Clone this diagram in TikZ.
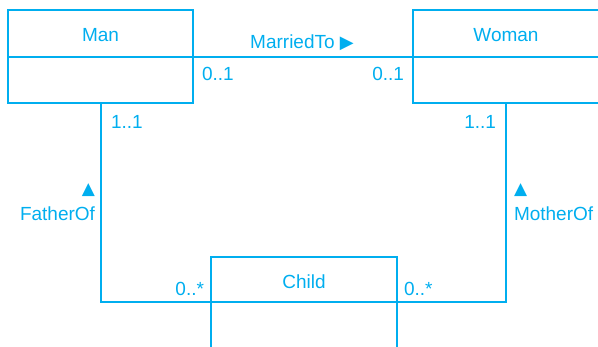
\documentclass[tikz,border=0pt]{standalone}
\usepackage{fontspec}
\setmainfont{Liberation Sans}
\newfontfamily\symfont{DejaVu Sans}
\definecolor{umlcyan}{RGB}{0,174,239}
\begin{document}
\begin{tikzpicture}[x=1pt,y=-1pt,
  every node/.style={inner sep=0pt,outer sep=0pt},
  cls/.style={draw=umlcyan,line width=2pt,rectangle,minimum width=185pt,text=umlcyan,font=\fontsize{19}{21}\selectfont},
  lbl/.style={text=umlcyan,font=\fontsize{19}{21}\selectfont},
  sym/.style={text=umlcyan,font=\symfont\fontsize{17}{19}\selectfont},
  conn/.style={draw=umlcyan,line width=2pt}]
\useasboundingbox (0,0) rectangle (598,347);
% classes
\node[cls,minimum height=47pt] (manT) at (100.5,33.5) {};
\node[lbl] (manL) at (100.5,35.5) {Man};
\node[cls,minimum height=46pt] (manB) at (100.5,80) {};
\node[cls,minimum height=47pt,minimum width=186pt] (womanT) at (506,33.5) {};
\node[lbl] (womanL) at (506,35.5) {Woman};
\node[cls,minimum height=46pt,minimum width=186pt] (womanB) at (506,80) {};
\node[cls,minimum height=45pt,minimum width=186pt] (childT) at (304,279.5) {};
\node[lbl] (childL) at (304,282) {Child};
\node[cls,minimum height=50pt,minimum width=186pt] (childB) at (304,327) {};
% connectors
\draw[conn] (manT.south east) -- (womanT.south west);
\draw[conn] (manB.south) |- (childT.south west);
\draw[conn] (womanB.south) |- (childT.south east);
% labels
\node[lbl] (married) at (302,42.5) {MarriedTo {\symfont\fontsize{18}{20}\selectfont ▶}};
\node[lbl,anchor=west] (m1) at (202,74) {0..1};
\node[lbl,anchor=east] (w1) at (404,74) {0..1};
\node[lbl,anchor=west] (m2) at (111,122) {1..1};
\node[lbl,anchor=east] (w2) at (496,122) {1..1};
\node[lbl,anchor=east] (father) at (95,214) {FatherOf};
\node[sym,anchor=east] (ftri) at (95,190) {▲};
\node[lbl,anchor=west] (mother) at (514,214) {MotherOf};
\node[sym,anchor=west] (mtri) at (514,190) {▲};
\node[lbl,anchor=east] (c1) at (204,289) {0..*};
\node[lbl,anchor=west] (c2) at (404,289) {0..*};
\end{tikzpicture}
\end{document}
